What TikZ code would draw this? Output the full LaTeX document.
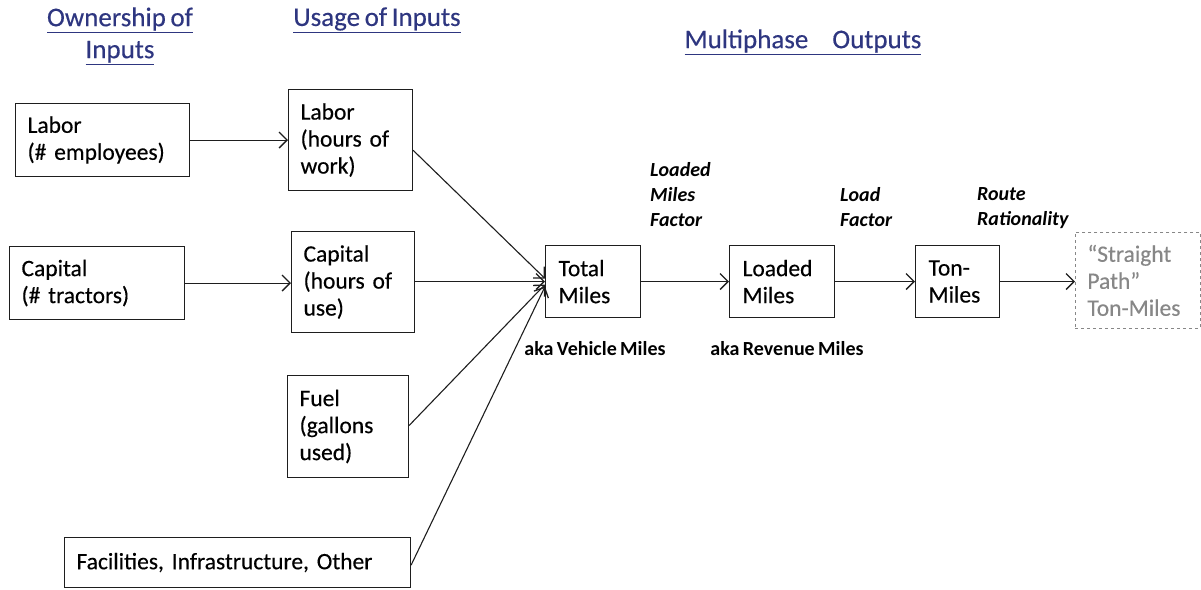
\documentclass[tikz,border=0pt]{standalone}
\usepackage{fontspec}
\setmainfont[WordSpace=0.75]{Carlito}
\newfontfamily\boxfont[WordSpace=0.75, BoldFont=Carlito, BoldFeatures={FakeBold=0.35}]{Carlito}
\frenchspacing
\usetikzlibrary{arrows.meta,calc}
\definecolor{headblue}{RGB}{46,54,128}
\definecolor{ghost}{RGB}{135,135,135}
\definecolor{ink}{RGB}{30,30,30}
\begin{document}
\begin{tikzpicture}[x=1pt,y=-1pt,
  box/.style={draw=ink, line width=1.1pt, anchor=north west, inner xsep=12pt, inner ysep=0pt,
    align=left, font=\fontsize{23.5}{27}\boxfont\bfseries},
  head/.style={text=headblue, align=center, font=\fontsize{27}{32}\boxfont\bfseries},
  factor/.style={align=left, font=\fontsize{20}{25}\selectfont\bfseries\itshape, anchor=north west, inner sep=0pt},
  aka/.style={font=\fontsize{20}{24}\selectfont\bfseries, inner sep=0pt},
  flow/.style={draw=ink, line width=1.1pt, -{Straight Barb[length=8pt,width=16pt,line width=1.3pt]}}]
\useasboundingbox (0,0) rectangle (1201,589);

% column headings
\node[head] (hown) at (120,36) {\underline{Ownership of}\\\underline{Inputs}};
\node[head] (huse) at (377,20) {\underline{Usage of Inputs}};
\node[head] (hout) at (803,42) {\underline{Multiphase\hspace{24pt}Outputs}};

% owned inputs
\node[box, minimum width=174pt, minimum height=73pt, text width=150pt] (labown) at (15,103) {Labor\\(\# employees)};
\node[box, minimum width=175pt, minimum height=73pt, text width=151pt] (capown) at (9,246) {Capital\\(\# tractors)};
\node[box, minimum width=346pt, minimum height=50pt, text width=322pt] (fac) at (64,537) {Facilities, Infrastructure, Other};

% used inputs
\node[box, minimum width=124pt, minimum height=101pt, text width=100pt] (labuse) at (288,89) {Labor\\(hours of\\work)};
\node[box, minimum width=123pt, minimum height=101pt, text width=99pt] (capuse) at (291,231) {Capital\\(hours of\\use)};
\node[box, minimum width=121pt, minimum height=102pt, text width=97pt] (fuel) at (287,375) {Fuel\\(gallons\\used)};

% outputs
\node[box, minimum width=93pt, minimum height=72pt, text width=69pt, inner xsep=13pt] (tot) at (545,245) {Total\\Miles};
\node[box, minimum width=103pt, minimum height=72pt, text width=79pt, inner xsep=13pt] (lod) at (729,245) {Loaded\\Miles};
\node[box, minimum width=82pt, minimum height=72pt, text width=58pt, inner xsep=13pt] (ton) at (915,245) {Ton-\\Miles};
\node[box, draw=ghost, dashed, line width=0.8pt, text=ghost, minimum width=125pt, minimum height=96pt, text width=101pt, inner xsep=12pt] (str) at (1075,232) {“Straight\\Path”\\Ton-Miles};

% factor labels
\node[factor] (f1) at (650,162) {Loaded\\Miles\\Factor};
\node[factor] (f2) at (840,187) {Load\\Factor};
\node[factor] (f3) at (977,187) {Route\\Rationality};
\node[aka] (a1) at (595,349) {aka Vehicle Miles};
\node[aka] (a2) at (787,349) {aka Revenue Miles};

% connectors
\draw[flow] (labown) -- (labuse.west |- labown.east);
\draw[flow] (capown) -- (capuse.west |- capown.east);
\coordinate (in1) at ($(tot.west)+(0,-3)$);
\coordinate (in2) at ($(tot.west)+(0,0)$);
\coordinate (in3) at ($(tot.west)+(0,3)$);
\coordinate (in4) at ($(tot.west)+(0,5)$);
\draw[flow] ($(labuse.north east)!0.6!(labuse.south east)$) -- (in1);
\draw[flow] (capuse.east |- in2) -- (in2);
\draw[flow] ($(fuel.north east)!0.49!(fuel.south east)$) -- (in3);
\draw[flow] ($(fac.north east)!0.55!(fac.south east)$) -- (in4);
\draw[flow] (tot) -- (lod);
\draw[flow] (lod) -- (ton);
\draw[flow] (ton) -- (str.west |- ton.east);
\end{tikzpicture}
\end{document}
